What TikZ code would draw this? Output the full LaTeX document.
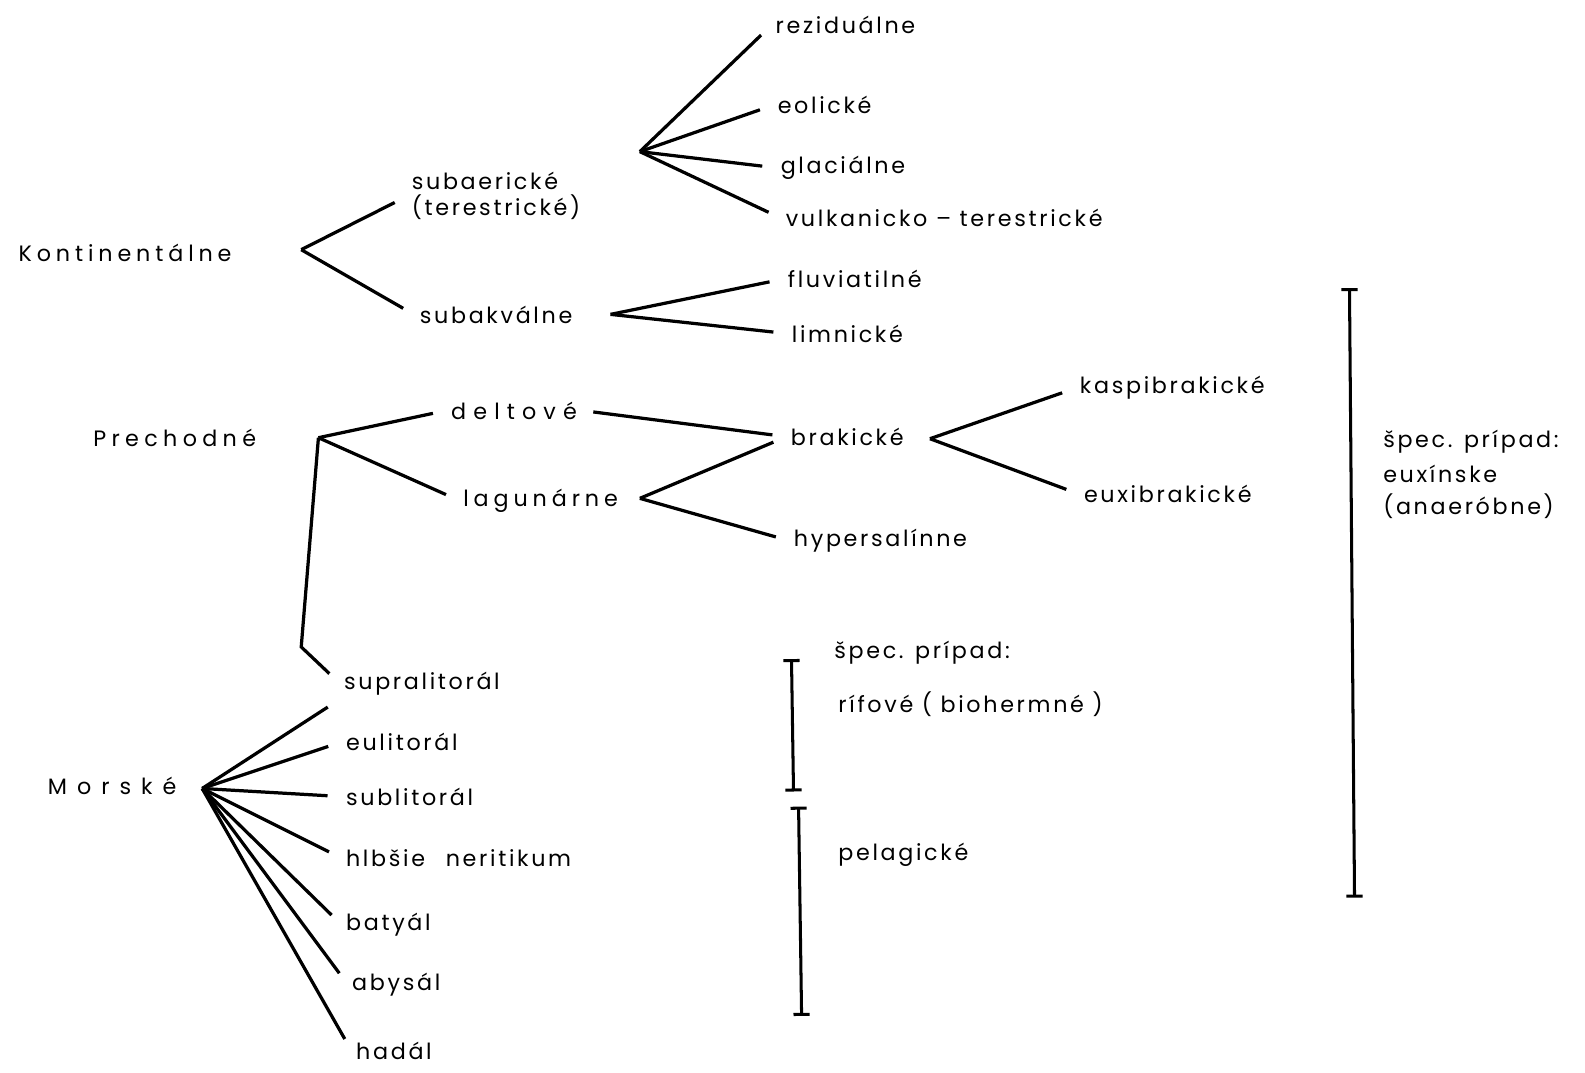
\documentclass[tikz,border=0pt]{standalone}
\usepackage{fontspec}
\setmainfont{Poppins}[LetterSpace=12]
\usetikzlibrary{arrows.meta}

\begin{document}
\begin{tikzpicture}[x=0.5pt,y=-0.5pt,
	lbl/.style={ anchor=west, inner sep=2pt, align=left, font=\fontsize{11}{13}\selectfont },
	wide/.style={ lbl, font=\fontsize{11}{13}\selectfont\addfontfeatures{LetterSpace=#1} },
	branch/.style={ line width=1.6pt, shorten >=7pt },
	rangebar/.style={ line width=1.5pt, {Bar[width=8pt]}-{Bar[width=8pt]} }
]
\useasboundingbox (0,0) rectangle (1568,1061);

\node at (14,250) (kont) [wide=22] {Kontinentálne};
\node at (403,194) (subaer) [lbl] {subaerické\\(terestrické)};
\node at (411,312) (subakv) [lbl] {subakválne};
\node at (763,25) (rezid) [lbl] {reziduálne};
\node at (765,104) (eol) [lbl] {eolické};
\node at (768,166) (glac) [lbl] {glaciálne};
\node at (773,216) (vulk) [lbl] {vulkanicko – terestrické};
\node at (775,276) (fluv) [lbl] {fluviatilné};
\node at (779,330) (limn) [lbl] {limnické};

\node at (88,433) (prech) [wide=24] {Prechodné};
\node at (442,406) (delt) [wide=32] {deltové};
\node at (454,495) (lagun) [wide=22] {lagunárne};
\node at (778,432) (brak) [lbl] {brakické};
\node at (781,535) (hyper) [lbl] {hypersalínne};
\node at (1064,384) (kaspi) [lbl] {kaspibrakické};
\node at (1068,489) (euxi) [lbl] {euxibrakické};

\node at (43,777) (mors) [wide=45] {Morské};
\node at (336,676) (supra) [lbl] {supralitorál};
\node at (338,734) (eulit) [lbl] {eulitorál};
\node at (338,788) (sublit) [lbl] {sublitorál};
\node at (338,849) (neri) [lbl] {hlbšie\hspace{6pt} neritikum};
\node at (338,915) (batyal) [lbl] {batyál};
\node at (344,974) (abysal) [lbl] {abysál};
\node at (348,1040) (hadal) [lbl] {hadál};

\node at (821,646) (spec) [lbl] {špec. prípad:};
\node at (825,697) (rif) [lbl] {rífové ( biohermné )};
\node at (825,846) (pelag) [lbl] {pelagické};
\node at (1364,437) (specb) [lbl] {špec. prípad:};
\node at (1364,469) (euxin) [lbl] {euxínske};
\node at (1364,501) (anaer) [lbl] {(anaeróbne)};

\coordinate (kfork) at (298,247);
\coordinate (afork) at (633,150);
\coordinate (qfork) at (604,311);
\coordinate (pfork) at (315,433);
\coordinate (pbend) at (298,640);
\coordinate (lfork) at (633,493);
\coordinate (bfork) at (920,434);
\coordinate (mfork) at (200,780);

\foreach \n in {subaer,subakv} \draw [branch] (kfork) -- (\n.west);
\foreach \n in {rezid,eol,glac,vulk} \draw [branch] (afork) -- (\n.west);
\foreach \n in {fluv,limn} \draw [branch] (qfork) -- (\n.west);
\foreach \n in {delt,lagun} \draw [branch] (pfork) -- (\n.west);
\draw [branch] (pfork) -- (pbend) -- (supra.west);
\draw [branch, shorten <=6pt] (delt.east) -- (brak.west);
\foreach \n in {brak,hyper} \draw [branch] (lfork) -- (\n.west);
\foreach \n in {kaspi,euxi} \draw [branch] (bfork) -- (\n.west);
\draw [branch] (mfork) -- (supra.south west);
\foreach \n in {eulit,sublit,neri,batyal,abysal,hadal} \draw [branch] (mfork) -- (\n.west);

\coordinate (rtop) at (783,652);
\coordinate (rbot) at (785,783);
\coordinate (ptop) at (790,798);
\coordinate (pbot) at (793,1005);
\coordinate (etop) at (1335,285);
\coordinate (ebot) at (1340,888);
\draw [rangebar] (rtop) -- (rbot);
\draw [rangebar] (ptop) -- (pbot);
\draw [rangebar] (etop) -- (ebot);

\end{tikzpicture}
\end{document}
